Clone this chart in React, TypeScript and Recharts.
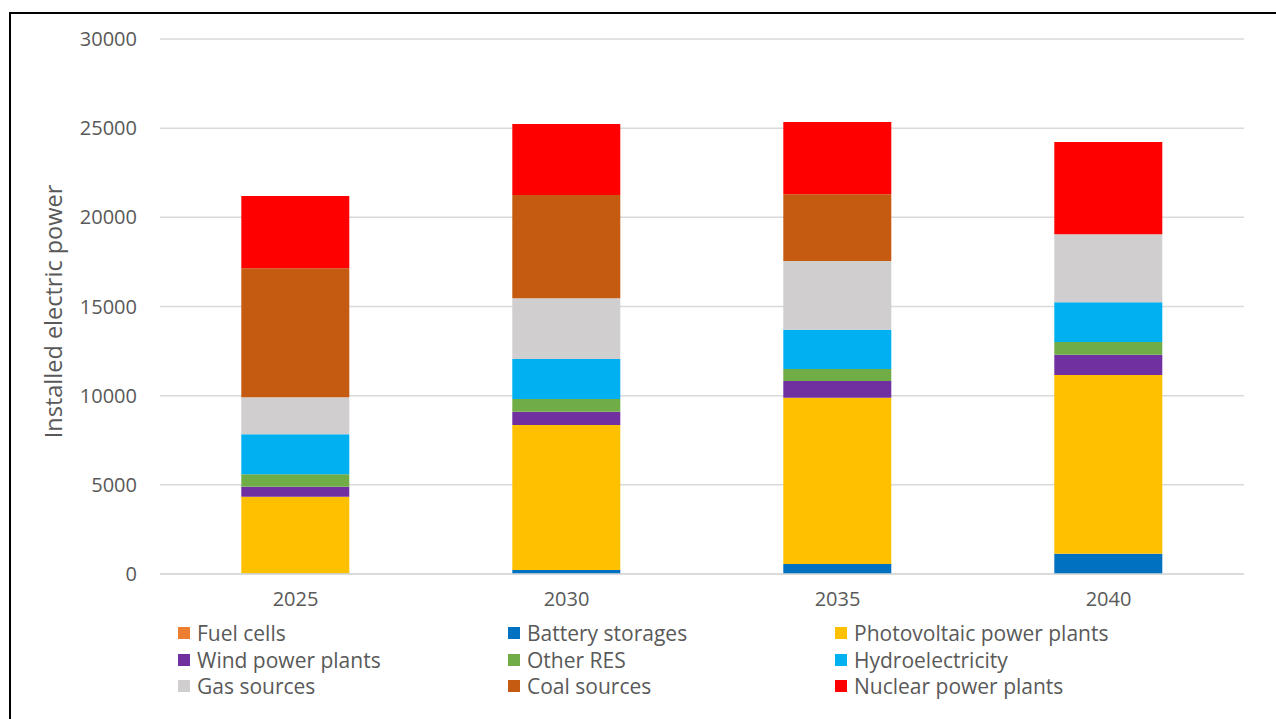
import { BarChart, Bar, XAxis, YAxis, CartesianGrid, Legend } from 'recharts';

const years = ['2025', '2030', '2035', '2040'];

const fuelCells = [0, 0, 0, 0];
const batteryStorages = [30, 224, 561, 1138];
const photovoltaic = [4306, 8130, 9324, 10020];
const windPower = [561, 746, 936, 1139];
const otherRes = [693, 712, 673, 711];
const hydroelectricity = [2243, 2243, 2204, 2226];
const gasSources = [2075, 3403, 3852, 3813];
const coalSources = [7232, 5793, 3740, 0];
const nuclearPower = [4055, 3980, 4053, 5175];

const yTicks = [0, 5000, 10000, 15000, 20000, 25000, 30000];

const SERIES = [
  { key: 'fuel', name: 'Fuel cells', color: '#ED7D31', values: fuelCells },
  { key: 'battery', name: 'Battery storages', color: '#0070C0', values: batteryStorages },
  { key: 'pv', name: 'Photovoltaic power plants', color: '#FFC000', values: photovoltaic },
  { key: 'wind', name: 'Wind power plants', color: '#7030A0', values: windPower },
  { key: 'other', name: 'Other RES', color: '#70AD47', values: otherRes },
  { key: 'hydro', name: 'Hydroelectricity', color: '#00B0F0', values: hydroelectricity },
  { key: 'gas', name: 'Gas sources', color: '#D0CECE', values: gasSources },
  { key: 'coal', name: 'Coal sources', color: '#C55A11', values: coalSources },
  { key: 'nuclear', name: 'Nuclear power plants', color: '#FF0000', values: nuclearPower },
];

const data = years.map((year, i) => {
  const row: Record<string, string | number> = { year };
  SERIES.forEach((s) => {
    row[s.key] = s.values[i];
  });
  return row;
});

const FONT = '"Open Sans", sans-serif';
const TEXT = '#595959';
const GRID = '#D9D9D9';

function LegendGrid() {
  return (
    <div
      style={{
        display: 'grid',
        gridTemplateColumns: '330px 327px 320px',
        paddingLeft: 178,
        paddingTop: 6,
        fontFamily: FONT,
        fontSize: 21,
        color: TEXT,
      }}
    >
      {SERIES.map((s) => (
        <div key={s.key} style={{ display: 'flex', alignItems: 'center', height: 26.5, whiteSpace: 'nowrap' }}>
          <span style={{ width: 12, height: 12, background: s.color, marginRight: 7, flexShrink: 0 }} />
          <span>{s.name}</span>
        </div>
      ))}
    </div>
  );
}

export default function App() {
  return (
    <div style={{ position: 'fixed', left: 0, top: 0, width: 1276, height: 719, overflow: 'hidden', background: '#fff' }}>
      <div
        style={{
          position: 'absolute',
          left: 9,
          top: 12,
          width: 1400,
          height: 800,
          border: '2px solid #000',
        }}
      />
      <div style={{ position: 'absolute', left: 0, top: 0 }}>
        <BarChart
          width={1276}
          height={719}
          data={data}
          margin={{ top: 39, right: 32, left: 0, bottom: 0 }}
          barCategoryGap="30%"
        >
          <CartesianGrid vertical={false} stroke={GRID} strokeWidth={1.5} />
          <XAxis
            dataKey="year"
            height={40}
            axisLine={{ stroke: GRID, strokeWidth: 1.5 }}
            tickLine={false}
            tickMargin={12}
            tick={{ fill: TEXT, fontSize: 20, fontFamily: FONT }}
          />
          <YAxis
            width={160}
            domain={[0, 30000]}
            ticks={yTicks}
            axisLine={false}
            tickLine={false}
            tickMargin={17}
            tick={{ fill: TEXT, fontSize: 20, fontFamily: FONT }}
            label={{
              value: 'Installed electric power',
              angle: -90,
              position: 'insideLeft',
              offset: 54,
              dy: 5,
              style: { textAnchor: 'middle', fill: TEXT, fontSize: 23.5, fontFamily: FONT },
            }}
          />
          <Legend
            verticalAlign="bottom"
            content={() => <LegendGrid />}
            wrapperStyle={{ left: 0, width: 1276, height: 105 }}
          />
          {SERIES.map((s) => (
            <Bar
              key={s.key}
              dataKey={s.key}
              name={s.name}
              stackId="a"
              fill={s.color}
              isAnimationActive={false}
            />
          ))}
        </BarChart>
      </div>
    </div>
  );
}
